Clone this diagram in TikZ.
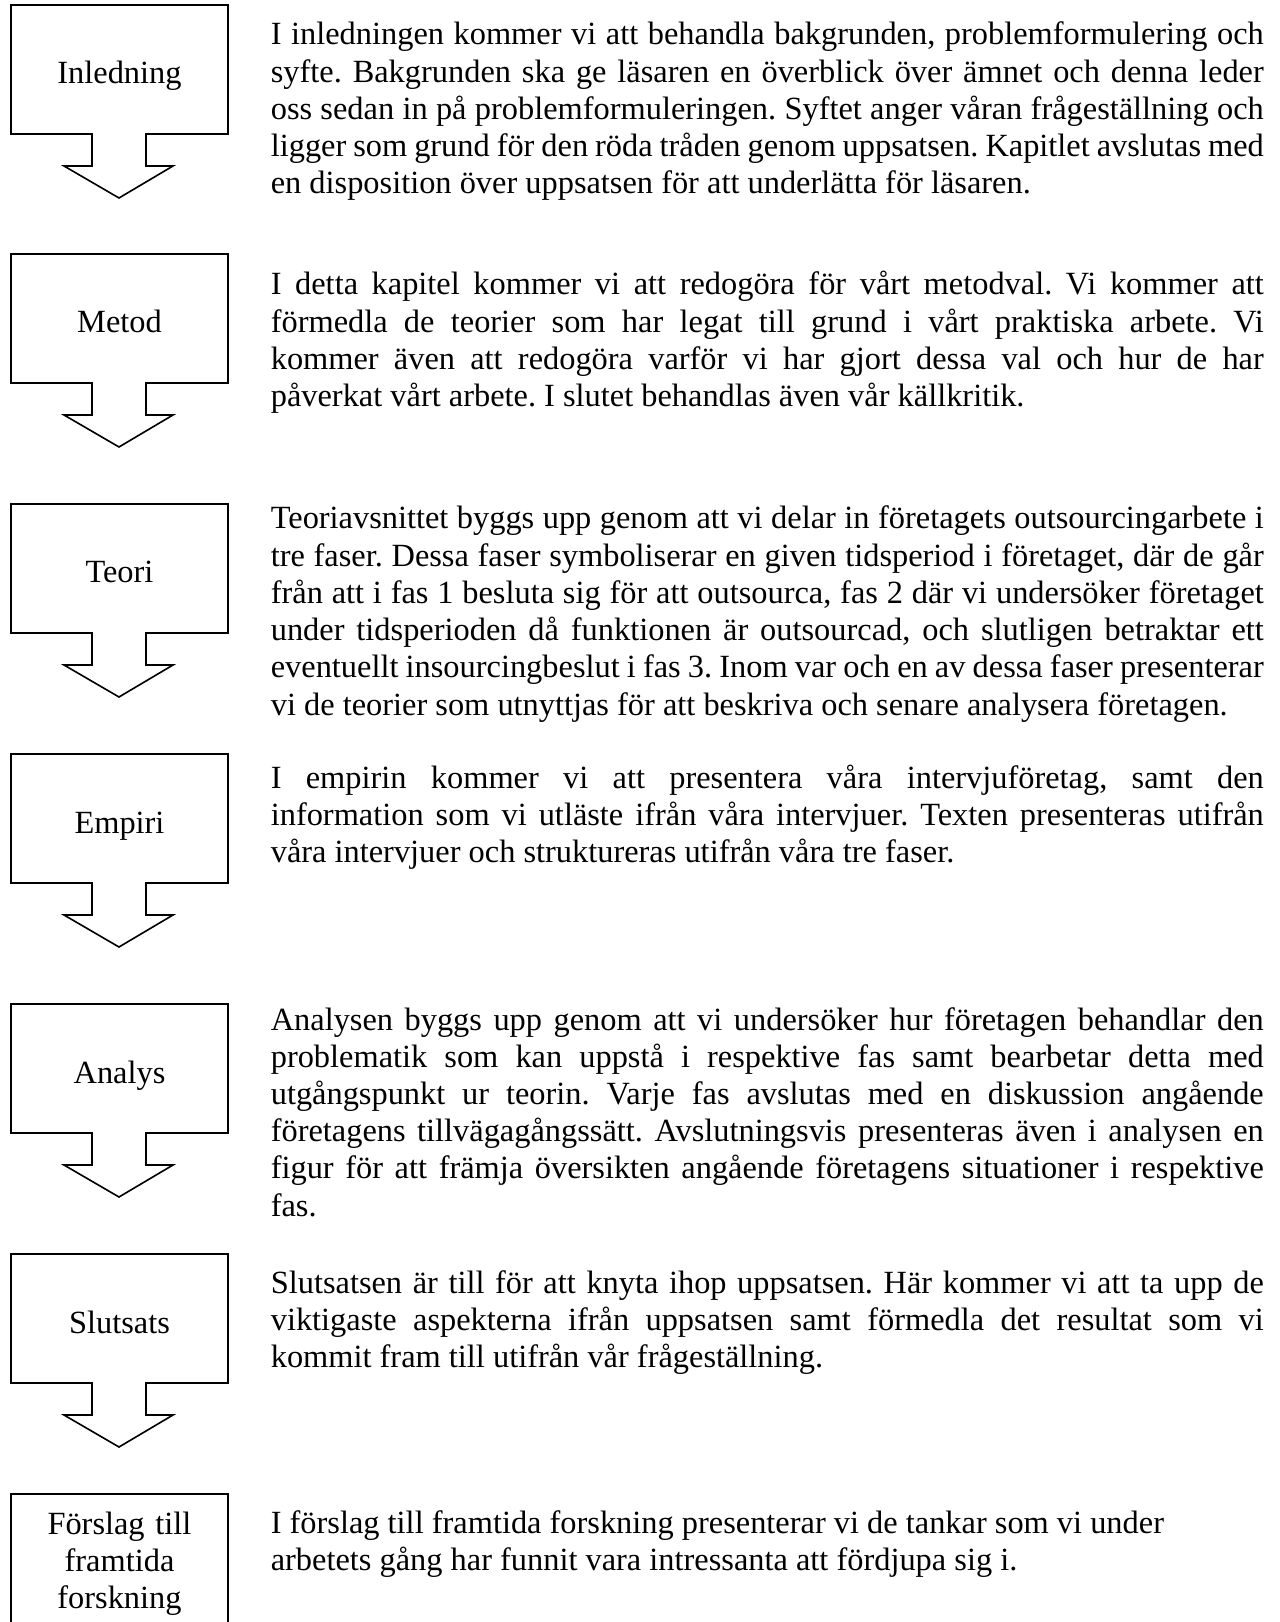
\documentclass[tikz,border=0pt]{standalone}
\usepackage{fontspec}
\setmainfont{Liberation Serif}
\frenchspacing
\tolerance=10000
\hyphenpenalty=10000
\hbadness=10000

\begin{document}
\begin{tikzpicture}[x=0.3705pt, y=-0.3705pt, line width=0.6pt,
    rubrik/.style={font=\fontsize{12pt}{13.8pt}\selectfont, anchor=base, inner sep=0pt},
    brodtext/.style={font=\fontsize{12pt}{13.8pt}\selectfont, anchor=base west, inner sep=0pt,
      text width=367.9pt, align=justify}]

        \useasboundingbox (0,0) rectangle (1279,1622);

        % rutor med pil nedat
        \foreach \i/\namn/\topp in {1/Inledning/5, 2/Metod/254, 3/Teori/504, 4/Empiri/754, 5/Analys/1004, 6/Slutsats/1254}{
            \draw (11,\topp) -- (228,\topp) -- (228,\topp+129) -- (146,\topp+129) -- (146,\topp+161)
                -- (173,\topp+161) -- (119,\topp+193) -- (64,\topp+161) -- (92,\topp+161)
                -- (92,\topp+129) -- (11,\topp+129) -- cycle;
            \node[rubrik] (rubrik\i) at (119.5,\topp+79) {\namn};
        }

        % sista rutan, utan pil
        \draw (11,1640) -- (11,1494) -- (228,1494) -- (228,1640);
        \node[rubrik, text width=80pt, align=center] (rubrik7) at (119.5,1534) {F\"orslag till\\ framtida\\ forskning};

        \node[brodtext] (text1) at (270,45) {I inledningen kommer vi att behandla bakgrunden, problemformulering och\linebreak
            syfte. Bakgrunden ska ge läsaren en överblick över ämnet och denna leder\linebreak
            oss sedan in på problemformuleringen. Syftet anger våran frågeställning och\linebreak
            ligger som grund för den röda tråden genom uppsatsen. Kapitlet avslutas med\linebreak
            en disposition över uppsatsen för att underlätta för läsaren.};

        \node[brodtext] (text2) at (270,295) {I detta kapitel kommer vi att redogöra för vårt metodval. Vi kommer att\linebreak
            förmedla de teorier som har legat till grund i vårt praktiska arbete. Vi\linebreak
            kommer även att redogöra varför vi har gjort dessa val och hur de har\linebreak
            påverkat vårt arbete. I slutet behandlas även vår källkritik.};

        \node[brodtext] (text3) at (270,529) {Teoriavsnittet byggs upp genom att vi delar in företagets outsourcingarbete i\linebreak
            tre faser. Dessa faser symboliserar en given tidsperiod i företaget, där de går\linebreak
            från att i fas 1 besluta sig för att outsourca, fas 2 där vi undersöker företaget\linebreak
            under tidsperioden då funktionen är outsourcad, och slutligen betraktar ett\linebreak
            eventuellt insourcingbeslut i fas 3. Inom var och en av dessa faser presenterar\linebreak
            vi de teorier som utnyttjas för att beskriva och senare analysera företagen.};

        \node[brodtext] (text4) at (270,788) {I empirin kommer vi att presentera våra intervjuföretag, samt den\linebreak
            information som vi utläste ifrån våra intervjuer. Texten presenteras utifrån\linebreak
            våra intervjuer och struktureras utifrån våra tre faser.};

        \node[brodtext] (text5) at (270,1030) {Analysen byggs upp genom att vi undersöker hur företagen behandlar den\linebreak
            problematik som kan uppstå i respektive fas samt bearbetar detta med\linebreak
            utgångspunkt ur teorin. Varje fas avslutas med en diskussion angående\linebreak
            företagens tillvägagångssätt. Avslutningsvis presenteras även i analysen en\linebreak
            figur för att främja översikten angående företagens situationer i respektive\linebreak
            fas.};

        \node[brodtext] (text6) at (270,1293) {Slutsatsen är till för att knyta ihop uppsatsen. Här kommer vi att ta upp de\linebreak
            viktigaste aspekterna ifrån uppsatsen samt förmedla det resultat som vi\linebreak
            kommit fram till utifrån vår frågeställning.};

        \node[brodtext] (text7) at (270,1533) {I förslag till framtida forskning presenterar vi de tankar som vi under\newline
            arbetets gång har funnit vara intressanta att fördjupa sig i.};
    \end{tikzpicture}
\end{document}
